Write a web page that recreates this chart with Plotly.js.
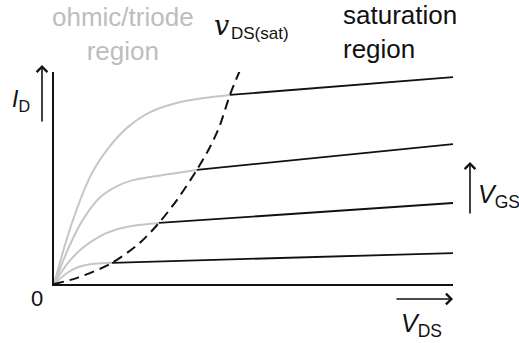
<!DOCTYPE html>
<html>
<head>
<meta charset="utf-8">
<script src="https://cdn.plot.ly/plotly-3.0.1.min.js"></script>
<style>html,body{margin:0;padding:0;background:#fff;}#chart{width:519px;height:343px;}</style>
</head>
<body>
<div id="chart"></div>
<script>
// Ohmic / triode region curves (grey), V_DS vs I_D, one per V_GS step
const ohmic1_x = [0, 0.35, 0.75, 1.0, 1.4, 1.85, 2.4, 3.2, 4.41];
const ohmic1_y = [0, 2.3, 4.4, 5.4, 6.5, 7.4, 8.1, 8.6, 8.92];
const ohmic2_x = [0, 0.40, 0.73, 1.15, 1.58, 1.98, 2.41, 3.58];
const ohmic2_y = [0, 1.85, 3.05, 4.08, 4.62, 4.90, 5.05, 5.38];
const ohmic3_x = [0, 0.33, 0.73, 1.15, 1.58, 1.98, 2.41, 2.63];
const ohmic3_y = [0, 0.95, 1.72, 2.25, 2.58, 2.75, 2.84, 2.88];
const ohmic4_x = [0, 0.33, 0.58, 0.90, 1.45];
const ohmic4_y = [0, 0.52, 0.78, 0.93, 1.0];

// Saturation region lines (black)
const sat1_x = [4.41, 10]; const sat1_y = [8.92, 9.76];
const sat2_x = [3.58, 10]; const sat2_y = [5.38, 6.60];
const sat3_x = [2.63, 10]; const sat3_y = [2.88, 3.82];
const sat4_x = [1.45, 10]; const sat4_y = [1.0, 1.46];

// v_DS(sat) boundary (dashed)
const vsat_x = [0, 0.6, 1.45, 2.15, 2.63, 3.08, 3.58, 3.91, 4.16, 4.41, 4.71];
const vsat_y = [0, 0.3, 0.99, 1.94, 2.88, 3.96, 5.38, 6.46, 7.5, 8.92, 10.3];

// Labels
const lblOhmic = 'ohmic/triode<br>region';
const lblSat = 'saturation<br>region';
const lblID = '<i>I</i><sub>D</sub>';
const lblVGS = '<i>V</i><sub>GS</sub>';
const lblVDS = '<i>V</i><sub>DS</sub>';
const lblVsatMain = '<i>v</i>';
const lblVsatSub = 'DS(sat)';
const lblZero = '0';

const GREY = '#c6c6c6';
const BLACK = '#111111';

const W = 519, H = 343, L = 54, R = 66, T = 72, B = 59;
const pw = W - L - R, ph = H - T - B;
const px = v => (v - L) / pw;
const py = v => (H - B - v) / ph;

function grey(x, y) {
  return {x, y, mode: 'lines', line: {color: GREY, width: 2, shape: 'spline', smoothing: 0.9}, hoverinfo: 'skip'};
}
function blk(x, y) {
  return {x, y, mode: 'lines', line: {color: BLACK, width: 1.8}, hoverinfo: 'skip'};
}

const traces = [
  grey(ohmic1_x, ohmic1_y), grey(ohmic2_x, ohmic2_y), grey(ohmic3_x, ohmic3_y), grey(ohmic4_x, ohmic4_y),
  blk(sat1_x, sat1_y), blk(sat2_x, sat2_y), blk(sat3_x, sat3_y), blk(sat4_x, sat4_y),
  {x: vsat_x, y: vsat_y, mode: 'lines', line: {color: BLACK, width: 2, dash: '10px,6px', shape: 'spline', smoothing: 0.8}, hoverinfo: 'skip'}
];

const SANS = 'Liberation Sans, Arial, sans-serif';
const SERIF = 'DejaVu Serif, serif';
const ann = (text, x, y, xa, ya, size, color, align, family) => ({
  text, x: px(x), y: py(y), xref: 'paper', yref: 'paper', xanchor: xa, yanchor: ya,
  showarrow: false, align: align || 'center', font: {family: family || SANS, size, color: color || BLACK}
});
const arrow = (hx, hy, ax, ay) => ({
  x: px(hx), y: py(hy), xref: 'paper', yref: 'paper', text: '', showarrow: true,
  ax, ay, arrowhead: 4, arrowsize: 1.3, arrowwidth: 1.6, arrowcolor: BLACK, standoff: 0, startstandoff: 0
});

const annotations = [
  ann(lblOhmic, 123, 34, 'center', 'middle', 26, '#bdbdbd', 'center'),
  ann(lblSat, 341, 32, 'left', 'middle', 26, BLACK, 'left'),
  ann(lblVsatMain, 212, 25, 'left', 'middle', 27, BLACK, 'left', SERIF),
  ann(lblVsatSub, 229, 33, 'left', 'middle', 17, BLACK, 'left'),
  ann(lblID, 10, 100, 'left', 'middle', 23, BLACK),
  ann(lblVGS, 476, 196, 'left', 'middle', 25, BLACK),
  ann(lblVDS, 399, 325, 'left', 'middle', 25, BLACK),
  ann(lblZero, 37, 298, 'center', 'middle', 22, BLACK),
  arrow(42, 65, 0, 58),
  arrow(470, 162, 0, 53),
  arrow(453, 299, -58, 0)
];

const axisCommon = {range: [0, 10], showline: true, linecolor: BLACK, linewidth: 2, showgrid: false,
  zeroline: false, showticklabels: false, ticks: '', fixedrange: true};

const layout = {
  width: W, height: H, margin: {l: L, r: R, t: T, b: B, pad: 0},
  paper_bgcolor: '#ffffff', plot_bgcolor: '#ffffff', showlegend: false,
  xaxis: Object.assign({}, axisCommon),
  yaxis: Object.assign({}, axisCommon),
  annotations
};

Plotly.newPlot('chart', traces, layout, {displayModeBar: false, staticPlot: true});
</script>
</body>
</html>
